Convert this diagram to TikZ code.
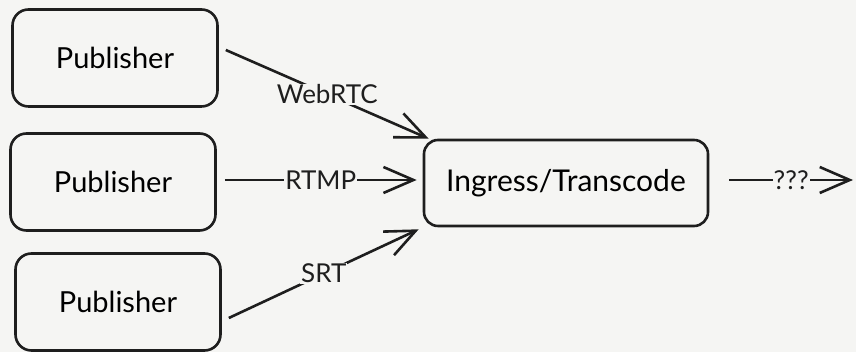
\documentclass[tikz,border=0pt]{standalone}
\usepackage{fontspec}
\setmainfont{Lato}
\usepackage{xcolor}
\usepackage{tikz}
\usetikzlibrary{positioning,calc,arrows.meta}
\definecolor{PaperBg}{RGB}{245,245,243}
\definecolor{InkBlack}{RGB}{30,30,30}
\tikzset{
    srcbox/.style={rectangle, rounded corners=16pt, draw=InkBlack, line width=2.6pt, fill=PaperBg, minimum width=205pt, minimum height=97pt, font=\fontsize{29}{34}\selectfont},
    hubbox/.style={rectangle, rounded corners=14pt, draw=InkBlack, line width=2.6pt, fill=PaperBg, minimum width=284pt, minimum height=86pt, font=\fontsize{30}{35}\selectfont},
    link/.style={draw=InkBlack, line width=2.6pt, -{Straight Barb[length=30pt, width=26pt, line width=2.6pt]}},
    linklabel/.style={fill=PaperBg, inner sep=1pt, text=InkBlack, font=\fontsize{26}{30}\selectfont}
}
\begin{document}
\begin{tikzpicture}[x=1pt, y=1pt]
    % 1. NỀN
    \fill[PaperBg] (0,0) rectangle (856,352);
    \useasboundingbox (0,0) rectangle (856,352);

    % 2. CÁC KHỐI
    \node[srcbox] (pub1) at (115,294) {Publisher};
    \node[srcbox] (pub2) at (113,170) {Publisher};
    \node[srcbox] (pub3) at (118,50) {Publisher};
    \node[hubbox] (ingest) at (566,169) {Ingress/Transcode};
    \coordinate (egress) at (853,172);

    % 3. CÁC MŨI TÊN
    \draw[link] ($(pub1.east)+(7,8)$) -- node[linklabel] {WebRTC} ($(ingest.north west)+(6,0)$);
    \draw[link] ($(pub2.east)+(8,2)$) -- node[linklabel] {RTMP} ($(ingest.west)+(-6,3)$);
    \draw[link] ($(pub3.east)+(7,-16)$) -- node[linklabel] {SRT} ($(ingest.south west)+(-4,-2)$);
    \draw[link] ($(ingest.east)+(20,3)$) -- node[linklabel] {???} (egress);
\end{tikzpicture}
\end{document}
